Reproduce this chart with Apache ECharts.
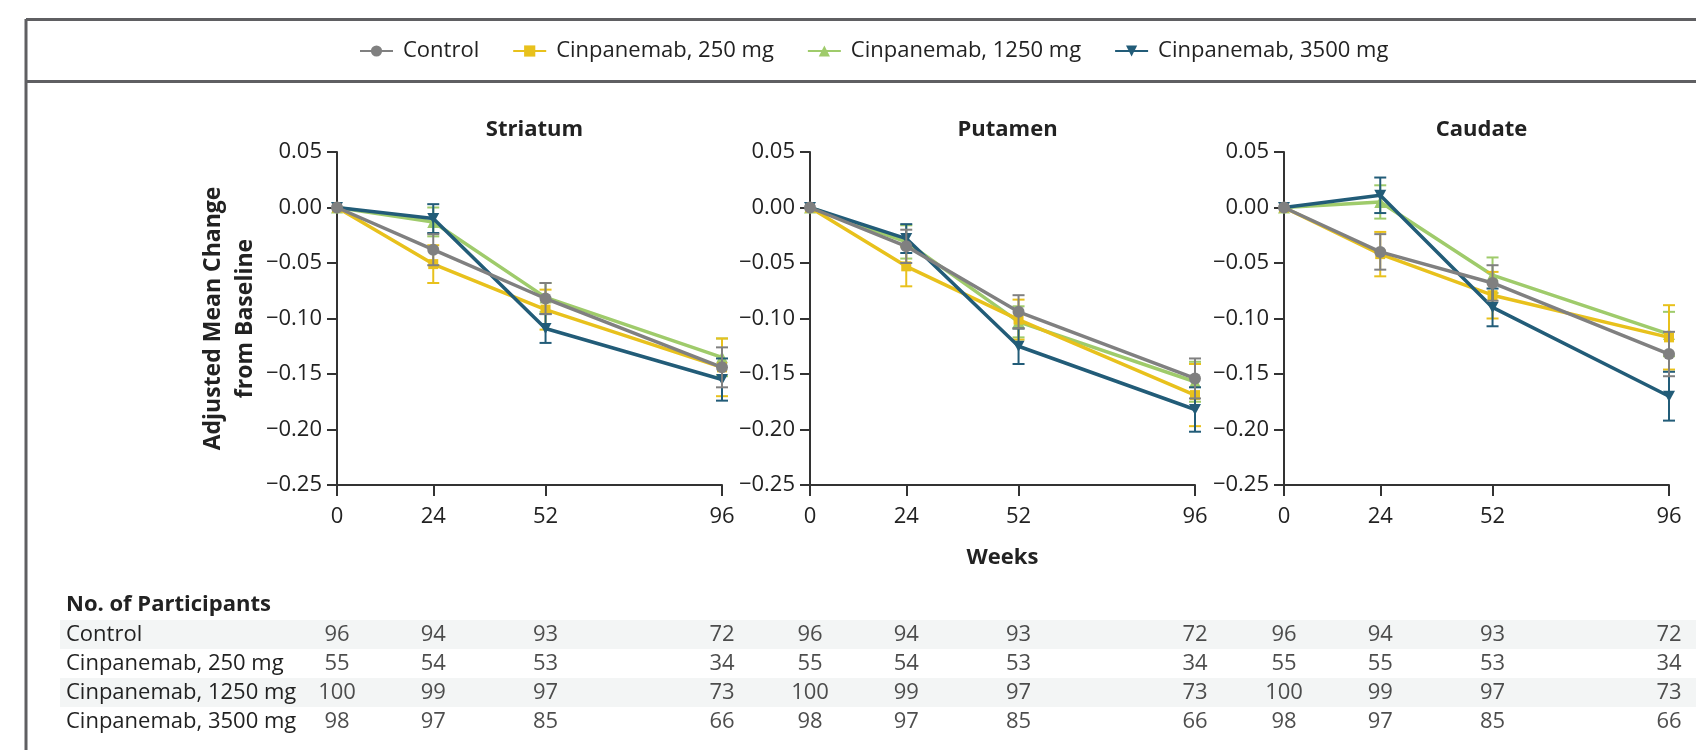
<!DOCTYPE html>
<html>
<head>
<meta charset="utf-8">
<script src="https://cdn.jsdelivr.net/npm/echarts@6/dist/echarts.min.js"></script>
<style>html,body{margin:0;padding:0;background:#fff}#c{width:1696px;height:750px}</style>
</head>
<body>
<div id="c"></div>
<script>
// ---------------- DATA ----------------
const weeks = [0, 24, 52, 96];
const groups = ['Control', 'Cinpanemab, 250 mg', 'Cinpanemab, 1250 mg', 'Cinpanemab, 3500 mg'];
const regions = ['Striatum', 'Putamen', 'Caudate'];
const yTicks = [0.05, 0.00, -0.05, -0.10, -0.15, -0.20, -0.25];

// Adjusted mean change (per region, per group)
const striatumControl = [0, -0.038, -0.082, -0.144];
const striatum250     = [0, -0.051, -0.092, -0.144];
const striatum1250    = [0, -0.013, -0.081, -0.135];
const striatum3500    = [0, -0.010, -0.109, -0.155];
const putamenControl  = [0, -0.035, -0.094, -0.154];
const putamen250      = [0, -0.053, -0.101, -0.169];
const putamen1250     = [0, -0.031, -0.103, -0.157];
const putamen3500     = [0, -0.028, -0.125, -0.182];
const caudateControl  = [0, -0.040, -0.068, -0.132];
const caudate250      = [0, -0.042, -0.079, -0.117];
const caudate1250     = [0,  0.005, -0.061, -0.114];
const caudate3500     = [0,  0.011, -0.090, -0.170];

// Error bar half-widths
const striatumControlErr = [0, 0.014, 0.014, 0.018];
const striatum250Err     = [0, 0.017, 0.018, 0.026];
const striatum1250Err    = [0, 0.013, 0.013, 0.017];
const striatum3500Err    = [0, 0.013, 0.013, 0.019];
const putamenControlErr  = [0, 0.015, 0.015, 0.018];
const putamen250Err      = [0, 0.018, 0.018, 0.028];
const putamen1250Err     = [0, 0.015, 0.014, 0.018];
const putamen3500Err     = [0, 0.013, 0.016, 0.020];
const caudateControlErr  = [0, 0.016, 0.016, 0.020];
const caudate250Err      = [0, 0.020, 0.021, 0.029];
const caudate1250Err     = [0, 0.015, 0.016, 0.020];
const caudate3500Err     = [0, 0.016, 0.017, 0.022];

// Number of participants
const striatumN = [[96, 94, 93, 72], [55, 54, 53, 34], [100, 99, 97, 73], [98, 97, 85, 66]];
const putamenN  = [[96, 94, 93, 72], [55, 54, 53, 34], [100, 99, 97, 73], [98, 97, 85, 66]];
const caudateN  = [[96, 94, 93, 72], [55, 55, 53, 34], [100, 99, 97, 73], [98, 97, 85, 66]];

// ---------------- STYLE / LAYOUT ----------------
const means = [
  [striatumControl, striatum250, striatum1250, striatum3500],
  [putamenControl, putamen250, putamen1250, putamen3500],
  [caudateControl, caudate250, caudate1250, caudate3500]
];
const errs = [
  [striatumControlErr, striatum250Err, striatum1250Err, striatum3500Err],
  [putamenControlErr, putamen250Err, putamen1250Err, putamen3500Err],
  [caudateControlErr, caudate250Err, caudate1250Err, caudate3500Err]
];
const counts = [striatumN, putamenN, caudateN];

const colors = ['#808080', '#e8c11c', '#9fcb6b', '#225c78'];
const symbols = ['circle', 'rect', 'triangle', 'path://M0,0 L10,0 L5,9 Z'];
const symbolSizes = [12, 10, 12, [12, 11]];
const zOrder = [6, 4, 3, 5];

const FONT = '"Open Sans", "Noto Sans", sans-serif';
const panelLeft = [337, 810, 1284];
const panelWidth = 385;
const chartTop = 152, chartHeight = 333;
const tableTop = 620, rowH = 29;

const grids = [], xAxes = [], yAxes = [], series = [], titles = [];

for (let p = 0; p < 3; p++) {
  grids.push({ left: panelLeft[p], top: chartTop, width: panelWidth, height: chartHeight });
  xAxes.push({
    gridIndex: p, type: 'value', min: 0, max: 96,
    axisLine: { show: true, onZero: false, lineStyle: { color: '#333', width: 2 } },
    axisTick: { show: true, length: 11, lineStyle: { color: '#333', width: 2 }, customValues: weeks },
    axisLabel: { customValues: weeks, fontSize: 22, color: '#222', margin: 21, fontFamily: FONT },
    splitLine: { show: false },
    name: p === 1 ? 'Weeks' : '', nameLocation: 'middle', nameGap: 62,
    nameTextStyle: { fontSize: 22, fontWeight: 'bold', color: '#222', fontFamily: FONT }
  });
  yAxes.push({
    gridIndex: p, type: 'value', min: -0.25, max: 0.05, interval: 0.05,
    axisLine: { show: true, onZero: false, lineStyle: { color: '#333', width: 2 } },
    axisTick: { show: true, length: 10, lineStyle: { color: '#333', width: 2 } },
    axisLabel: {
      fontSize: 22, color: '#222', margin: 15, fontFamily: FONT,
      formatter: v => Math.abs(v) < 1e-9 ? '0.00' : (v < 0 ? '\u2212' : '') + Math.abs(v).toFixed(2)
    },
    splitLine: { show: false },
    name: p === 0 ? 'Adjusted Mean Change\nfrom Baseline' : '', nameLocation: 'middle', nameGap: 76,
    nameTextStyle: { fontSize: 23, fontWeight: 'bold', color: '#222', lineHeight: 32, fontFamily: FONT }
  });
  titles.push({
    text: regions[p], left: panelLeft[p] + panelWidth / 2, top: 114, textAlign: 'center',
    textStyle: { fontSize: 22, fontWeight: 'bold', color: '#222', fontFamily: FONT }
  });
}
// table grids
for (let p = 0; p < 3; p++) {
  grids.push({ left: panelLeft[p], top: tableTop, width: panelWidth, height: rowH * 4 });
  xAxes.push({ gridIndex: 3 + p, type: 'value', min: 0, max: 96, show: false });
  yAxes.push({
    gridIndex: 3 + p, type: 'category', data: groups, inverse: true,
    axisLine: { show: false }, axisTick: { show: false }, splitLine: { show: false },
    axisLabel: p === 0 ? { show: true, align: 'left', margin: panelLeft[0] - 66, fontSize: 22, color: '#222', fontFamily: FONT } : { show: false }
  });
}

// error bars
for (let p = 0; p < 3; p++) {
  for (let g = 0; g < 4; g++) {
    const d = [];
    weeks.forEach((w, i) => {
      if (errs[p][g][i] > 0) d.push([w, means[p][g][i] - errs[p][g][i], means[p][g][i] + errs[p][g][i]]);
    });
    series.push({
      type: 'custom', name: groups[g] + ' err', xAxisIndex: p, yAxisIndex: p, z: zOrder[g], clip: false,
      data: d, encode: { x: 0, y: [1, 2] }, silent: true,
      renderItem: (params, api) => {
        const x = api.value(0);
        const lo = api.coord([x, api.value(1)]);
        const hi = api.coord([x, api.value(2)]);
        const cw = 6;
        const st = { stroke: colors[g], lineWidth: 2 };
        return {
          type: 'group', children: [
            { type: 'line', shape: { x1: hi[0], y1: hi[1], x2: lo[0], y2: lo[1] }, style: st },
            { type: 'line', shape: { x1: hi[0] - cw, y1: hi[1], x2: hi[0] + cw, y2: hi[1] }, style: st },
            { type: 'line', shape: { x1: lo[0] - cw, y1: lo[1], x2: lo[0] + cw, y2: lo[1] }, style: st }
          ]
        };
      }
    });
  }
}
// lines
for (let p = 0; p < 3; p++) {
  for (let g = 0; g < 4; g++) {
    series.push({
      type: 'line', name: groups[g], xAxisIndex: p, yAxisIndex: p, z: zOrder[g] + 0.5,
      data: weeks.map((w, i) => [w, means[p][g][i]]),
      symbol: symbols[g], symbolSize: symbolSizes[g], showAllSymbol: true,
      lineStyle: { color: colors[g], width: 3.5 }, itemStyle: { color: colors[g] },
      emphasis: { disabled: true }, animation: false
    });
  }
}
// participant counts
for (let p = 0; p < 3; p++) {
  for (let g = 0; g < 4; g++) {
    series.push({
      type: 'scatter', xAxisIndex: 3 + p, yAxisIndex: 3 + p, silent: true,
      data: weeks.map((w, i) => [w, groups[g], counts[p][g][i]]),
      symbolSize: 1, itemStyle: { color: 'rgba(0,0,0,0)' },
      label: { show: true, position: 'inside', formatter: q => String(q.value[2]), fontSize: 22, color: '#222', fontFamily: FONT }
    });
  }
}

const graphics = [];
// row stripes
[0, 2].forEach(r => graphics.push({
  type: 'rect', z: -10, shape: { x: 60, y: tableTop + r * rowH, width: 1636, height: rowH },
  style: { fill: '#f3f5f5' }, silent: true
}));
// frame
graphics.push({ type: 'line', shape: { x1: 26, y1: 19, x2: 26, y2: 750 }, style: { stroke: '#5f5f62', lineWidth: 3 } });
graphics.push({ type: 'line', shape: { x1: 26, y1: 19.5, x2: 1696, y2: 19.5 }, style: { stroke: '#5f5f62', lineWidth: 3 } });
graphics.push({ type: 'line', shape: { x1: 26, y1: 81.5, x2: 1696, y2: 81.5 }, style: { stroke: '#5f5f62', lineWidth: 3 } });
graphics.push({
  type: 'text', left: 66, top: 594,
  style: { text: 'No. of Participants', font: 'bold 22px ' + FONT, fill: '#222' }
});

const chart = echarts.init(document.getElementById('c'), null, { renderer: 'canvas' });
chart.setOption({
  animation: false,
  backgroundColor: '#fff',
  title: titles,
  legend: {
    data: groups, left: 354, top: 35, itemWidth: 33, itemHeight: 14, itemGap: 33,
    textStyle: { fontSize: 22, color: '#222', fontFamily: FONT, padding: [0, 0, 0, 5] }
  },
  grid: grids, xAxis: xAxes, yAxis: yAxes, series: series, graphic: graphics
});
</script>
</body>
</html>
